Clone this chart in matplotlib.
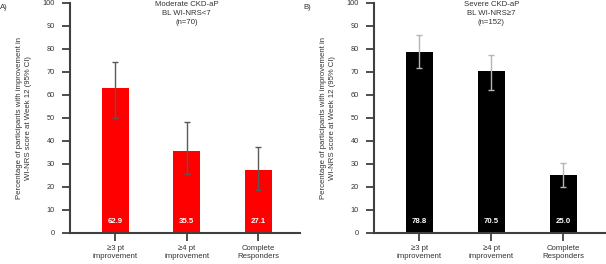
import matplotlib
matplotlib.use("Agg")
import matplotlib.pyplot as plt
import numpy as np

plt.rcParams['font.family'] = ['Liberation Sans', 'DejaVu Sans']

categories = ["≥3 pt\nimprovement", "≥4 pt\nimprovement", "Complete\nResponders"]
mod_values = [62.9, 35.5, 27.1]
mod_lo = [50.0, 25.5, 18.5]
mod_hi = [74.5, 48.0, 37.2]
sev_values = [78.8, 70.5, 25.0]
sev_lo = [71.5, 62.0, 19.8]
sev_hi = [86.0, 77.2, 30.5]
yticks = list(range(0, 101, 10))

W, H = 606, 264
fig = plt.figure(figsize=(W / 100, H / 100), dpi=100)

ylabel = "Percentage of participants with improvement in\nWI-NRS score at Week 12 (95% CI)"
spine_c = '#404040'
text_c = '#333333'
fs = 5.6
tfs = 5.3


def panel(rect, vals, lo, hi, color, ecolor, title, tag, tagx):
    ax = fig.add_axes(rect)
    x = np.arange(len(vals))
    vals = np.array(vals)
    yerr = [vals - np.array(lo), np.array(hi) - vals]
    ax.bar(x, vals, width=0.38, color=color, zorder=2)
    ax.errorbar(x, vals, yerr=yerr, fmt='none', ecolor=ecolor, elinewidth=1.0,
                capsize=2, capthick=1.0, zorder=3)
    for xi, v in zip(x, vals):
        ax.text(xi, 4.7, f"{v:.1f}", color='white', ha='center', va='center',
                fontsize=fs, fontweight='bold', zorder=4)
    ax.set_xlim(-0.63, 2.58)
    ax.set_ylim(0, 100)
    ax.set_yticks(yticks)
    ax.set_xticks(x)
    ax.set_xticklabels(categories, fontsize=fs, color=text_c, linespacing=1.3)
    ax.tick_params(axis='y', labelsize=tfs, colors=text_c, length=5.8, width=1.3, color=spine_c, pad=5)
    ax.tick_params(axis='x', length=5.8, width=1.3, color=spine_c, pad=3)
    for s in ['top', 'right']:
        ax.spines[s].set_visible(False)
    for s in ['left', 'bottom']:
        ax.spines[s].set_linewidth(1.5)
        ax.spines[s].set_color(spine_c)
    ax.set_ylabel(ylabel, fontsize=fs, color=text_c, labelpad=8, linespacing=1.3)
    ax.text(1.0, 101, title, ha='center', va='top', fontsize=fs, color=text_c,
            linespacing=1.45, transform=ax.transData)
    fig.text(tagx, 0.985, tag, ha='left', va='top', fontsize=fs, color=text_c)
    return ax


b = 1 - 232.7 / H
t = 1 - 3 / H
panel([70 / W, b, (300 - 70) / W, t - b], mod_values, mod_lo, mod_hi, '#ff0000', '#5a5a5a',
      "Moderate CKD-aP\nBL WI-NRS<7\n(n=70)", "A)", 0.0)
panel([374 / W, b, (605 - 374) / W, t - b], sev_values, sev_lo, sev_hi, '#000000', '#b5b5b5',
      "Severe CKD-aP\nBL WI-NRS≥7\n(n=152)", "B)", 303 / W)

fig.savefig("out.png", dpi=100)
